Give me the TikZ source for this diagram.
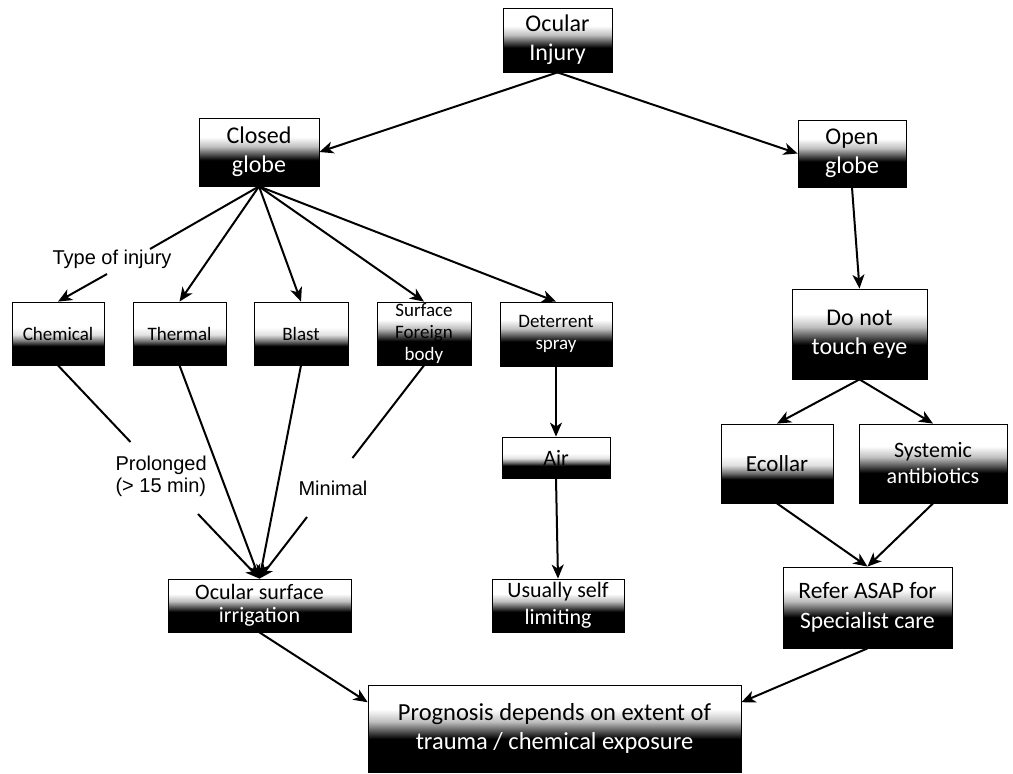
\documentclass[tikz,border=0pt]{standalone}
\usepackage{fontspec}
\setmainfont{Carlito}
\newfontfamily\arialf{Liberation Sans}
\usetikzlibrary{arrows.meta}
\pgfdeclareverticalshading{boxshade}{100bp}{color(0bp)=(black); color(44bp)=(black); color(48bp)=(black!70); color(54bp)=(black!25); color(61bp)=(white); color(100bp)=(white)}
\pgfdeclareverticalshading{boxshadeone}{100bp}{color(0bp)=(black); color(40bp)=(black); color(44bp)=(black!55); color(49bp)=(black!12); color(55bp)=(white); color(100bp)=(white)}
\begin{document}
\begin{tikzpicture}[x=1pt,y=-1pt,
  box/.style={draw=black, line width=0.8pt, shade, shading=boxshade, inner sep=0pt, align=center, font=\fontsize{24}{29}\selectfont},
  onebox/.style={shade, shading=boxshadeone},
  sbox/.style={box, font=\fontsize{19}{22}\selectfont},
  lbl/.style={font=\arialf\fontsize{20}{22}\selectfont, align=left},
  conn/.style={line width=2pt, -{Stealth[length=14pt,width=12pt,inset=4pt]}},
  plainline/.style={line width=2pt}
]
\fill[white] (0,0) rectangle (1013,774);
\useasboundingbox (0,0) rectangle (1013,774);

% nodes
\node[box, minimum width=109pt, minimum height=64pt] (inj) at (557.5,40) {Ocular\\{\color{white}Injury}};
\node[box, minimum width=120pt, minimum height=68pt] (closed) at (259,152) {Closed\\{\color{white}globe}};
\node[box, minimum width=108pt, minimum height=67pt] (open) at (852,153.5) {Open\\{\color{white}globe}};

\node[sbox, onebox, minimum width=92pt, minimum height=63pt] (chem) at (58,333.5) {Chemical};
\node[sbox, onebox, minimum width=93pt, minimum height=63pt] (therm) at (179.5,333.5) {Thermal};
\node[sbox, onebox, minimum width=94pt, minimum height=63pt] (blast) at (301,333.5) {Blast};
\node[sbox, minimum width=94pt, minimum height=63pt] (sfb) at (424,333.5) {Surface\\Foreign\\{\color{white}body}};
\node[sbox, minimum width=112pt, minimum height=64pt] (det) at (556,334) {Deterrent\\{\color{white}spray}};

\node[box, onebox, font=\fontsize{22}{26}\selectfont, minimum width=108pt, minimum height=41pt] (air) at (556,457.5) {Air};
\node[box, font=\fontsize{22}{27}\selectfont, minimum width=132pt, minimum height=53pt] (self) at (558,605.5) {Usually self\\{\color{white}limiting}};

\node[box, minimum width=135pt, minimum height=90pt] (dnt) at (859.5,334) {Do not\\{\color{white}touch eye}};
\node[box, onebox, font=\fontsize{23}{27}\selectfont, minimum width=112pt, minimum height=79pt] (ecol) at (777,463.5) {Ecollar};
\node[box, font=\fontsize{22}{26}\selectfont, minimum width=148pt, minimum height=79pt] (syst) at (933,463.5) {Systemic\\{\color{white}antibiotics}};
\node[box, font=\fontsize{23.5}{30}\selectfont, minimum width=169pt, minimum height=81pt] (refer) at (867.5,607.5) {Refer ASAP for\\{\color{white}Specialist care}};

\node[box, font=\fontsize{22}{23}\selectfont, minimum width=183pt, minimum height=53pt] (irr) at (259.5,605.5) {Ocular surface\\{\color{white}irrigation}};
\node[box, font=\fontsize{24.5}{29}\selectfont, minimum width=373pt, minimum height=87pt] (prog) at (554.5,728.5) {Prognosis depends on extent of\\{\color{white}trauma / chemical exposure}};

% labels
\node[lbl] (toi) at (112,259) {Type of injury};
\node[lbl, anchor=west] (prol) at (112,476) {Prolonged\\(> 15 min)};
\node[lbl] (mini) at (333,488) {Minimal};

% free ends
\coordinate (c0a) at (150,249);
\coordinate (c0b) at (107,274);
\coordinate (c1) at (130.5,442);
\coordinate (c2) at (198,514);
\coordinate (c3) at (352.5,458);
\coordinate (c4) at (307,517);

% connectors
\draw[conn] (inj.south) -- (closed.east);
\draw[conn] (inj.south) -- (open.west);
\draw[plainline] (closed.south) -- (c0a);
\draw[conn] (c0b) -- (chem.north);
\draw[conn] (closed.south) -- (therm.north);
\draw[conn] (closed.south) -- (blast.north);
\draw[conn] (closed.south) -- (sfb.north);
\draw[conn] (closed.south) -- (det.north);
\draw[conn] (det.south) -- (air.north);
\draw[conn] (air.south) -- (self.north);
\draw[plainline] (chem.south) -- (c1);
\draw[conn] (c2) -- (irr.north);
\draw[conn] (therm.south) -- (irr.north);
\draw[conn] (blast.south) -- (irr.north);
\draw[plainline] (sfb.south) -- (c3);
\draw[conn] (c4) -- (irr.north);
\draw[conn] (irr.south) -- (prog.172);
\draw[conn] (open.south) -- (dnt.north);
\draw[conn] (dnt.south) -- (ecol.north);
\draw[conn] (dnt.south) -- (syst.north);
\draw[conn] (ecol.south) -- (refer.north);
\draw[conn] (syst.south) -- (refer.north);
\draw[conn] (refer.south) -- (prog.8);
\end{tikzpicture}
\end{document}
